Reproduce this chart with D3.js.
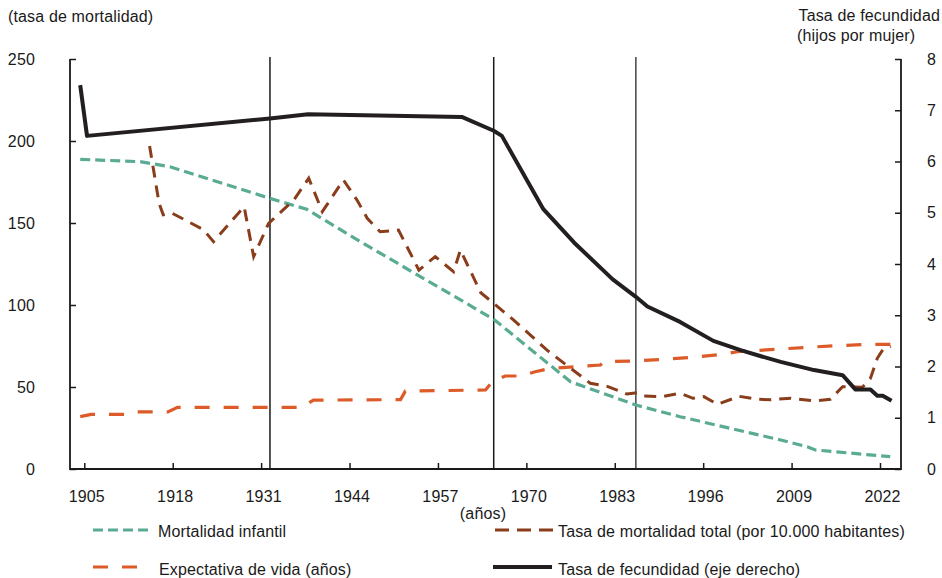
<!DOCTYPE html>
<html>
<head>
<meta charset="utf-8">
<script src="https://cdn.jsdelivr.net/npm/d3@7"></script>
<style>
  html, body { margin: 0; padding: 0; background: #fff; }
  svg { display: block; }
  text { font-family: "Liberation Sans", Arial, Helvetica, sans-serif; font-size: 16px; fill: #1a1a1a; letter-spacing: 0.15px; }
</style>
</head>
<body>
<svg id="chart" width="942" height="578"></svg>
<script>
// ---------- DATA ----------
const xTicks = [1905, 1918, 1931, 1944, 1957, 1970, 1983, 1996, 2009, 2022];
const leftTicks = [0, 50, 100, 150, 200, 250];
const rightTicks = [0, 1, 2, 3, 4, 5, 6, 7, 8];
const eventYears = [1932.3, 1965.2, 1986.1];

// Mortalidad infantil (left axis)
const infYears = [1904.4, 1913.2, 1917.6, 1932.3, 1937.7, 1945.6, 1965.2, 1976.5, 1986.1, 1992.6, 2007.4, 2011.3, 2012.5, 2023.5];
const infVals  = [188.8, 187.4, 184.3, 165, 158.4, 138.6, 91.3, 53.2, 39, 31.9, 17.7, 13.6, 11.6, 7.5];

// Expectativa de vida (años) (left axis)
const lifeYears = [1904.4, 1906, 1911, 1912.5, 1917.3, 1918.7, 1937, 1938.7, 1951.5, 1952.2, 1964, 1965, 1966.9, 1969.1, 1971.3, 1973.5, 1977.4, 1980.9, 1981.4, 1985.8, 1990.2, 1994.6, 1998.8, 2001, 2007.4, 2011.3, 2015.7, 2020.6, 2023.6];
const lifeVals  = [31.9, 33.3, 33.3, 34.8, 34.8, 37.6, 37.6, 42, 42.3, 47.5, 48.2, 53.2, 56.7, 56.7, 59.3, 61.4, 62.4, 63.4, 65.4, 65.9, 66.9, 68.1, 69.9, 71.5, 73.2, 74.2, 75.2, 76, 76];

// Tasa de mortalidad total (por 10.000 habitantes) (left axis)
const mortYears = [1914.6, 1916, 1916.6, 1917.9, 1922.5, 1924, 1928.5, 1929.9, 1932.1, 1935.8, 1938, 1940, 1943.1, 1945.1, 1946.6, 1948.5, 1951.2, 1954.2, 1956.6, 1959.3, 1960.3, 1963.3, 1965.2, 1968.1, 1970.6, 1973, 1976.2, 1979.4, 1981.9, 1984.8, 1986.3, 1987.3, 1990, 1992.6, 1994.5, 1996.1, 1998.1, 2001.3, 2004, 2006, 2008.9, 2012.3, 2014.7, 2016.5, 2019.4, 2020.6, 2021.6, 2022.4, 2023.6];
const mortVals  = [197, 162, 155, 156, 146, 138.6, 160, 129.5, 149.8, 164, 177.3, 156.9, 176.2, 164, 152.9, 144.7, 145.7, 121.3, 129.5, 120.3, 133.5, 107.5, 101, 90.9, 81.7, 72.6, 62.4, 52.3, 50.4, 45.7, 46.5, 44.5, 44.1, 46.2, 43.1, 44.1, 39.5, 44.3, 42.5, 42.3, 43.1, 41.5, 42.5, 50.2, 49.8, 55.3, 67.5, 72.6, 74.6];

// Tasa de fecundidad (eje derecho)
const fertYears = [1904.4, 1905.4, 1932.3, 1937.9, 1960.5, 1965.2, 1966.4, 1972.5, 1977, 1982.7, 1986.1, 1987.8, 1992.6, 1997.5, 2001.5, 2004.5, 2007.4, 2012.3, 2016.5, 2018.4, 2020.6, 2021.6, 2022.4, 2023.7];
const fertVals  = [7.49, 6.50, 6.84, 6.92, 6.87, 6.60, 6.50, 5.07, 4.42, 3.70, 3.36, 3.17, 2.87, 2.50, 2.32, 2.20, 2.09, 1.93, 1.83, 1.55, 1.55, 1.43, 1.43, 1.33];

const seriesNames = ["Mortalidad infantil", "Tasa de mortalidad total (por 10.000 habitantes)", "Expectativa de vida (años)", "Tasa de fecundidad (eje derecho)"];

// ---------- STYLE / LAYOUT ----------
const colors = { inf: "#5aab93", mort: "#8a3d1b", life: "#dc5b28", fert: "#231f20" };
const plot = { left: 70, right: 901, top: 59, bottom: 469 };

const svg = d3.select("#chart");

const x = d3.scaleLinear().domain([1905, 2022]).range([84.3, 880]);
const yL = d3.scaleLinear().domain([0, 250]).range([plot.bottom, plot.top]);
const yR = d3.scaleLinear().domain([0, 8]).range([plot.bottom, plot.top]);

// event vertical lines
svg.append("g").selectAll("line").data(eventYears).join("line")
  .attr("x1", d => x(d)).attr("x2", d => x(d))
  .attr("y1", plot.top - 2).attr("y2", plot.bottom)
  .attr("stroke", (d, i) => i === 2 ? "#444" : "#1a1a1a").attr("stroke-width", 1.5);

// axes
const axL = svg.append("g").attr("transform", `translate(${plot.left},0)`)
  .call(d3.axisLeft(yL).tickValues(leftTicks).tickSizeInner(-6).tickSizeOuter(0).tickPadding(35));
const axR = svg.append("g").attr("transform", `translate(${plot.right},0)`)
  .call(d3.axisRight(yR).tickValues(rightTicks).tickSizeInner(-6).tickSizeOuter(0).tickPadding(26));
const axB = svg.append("g").attr("transform", `translate(0,${plot.bottom})`)
  .call(d3.axisBottom(x).tickValues(xTicks).tickFormat(d3.format("d")).tickSizeInner(-6).tickSizeOuter(0).tickPadding(22));
[axL, axR, axB].forEach(g => {
  g.select(".domain").remove();
  g.selectAll(".tick line").attr("stroke", "#1a1a1a").attr("stroke-width", 1.5);
  g.selectAll(".tick text").attr("fill", "#1a1a1a").style("font-size", "16px")
    .style("font-family", '"Liberation Sans", Arial, sans-serif');
});
axB.selectAll(".tick text").attr("dx", 2);

svg.append("path")
  .attr("d", `M${plot.left},${plot.top}V${plot.bottom}H${plot.right}V${plot.top}`)
  .attr("fill", "none").attr("stroke", "#1a1a1a").attr("stroke-width", 1.8);

// series
const lineL = d3.line().x(d => x(d[0])).y(d => yL(d[1]));
const lineR = d3.line().x(d => x(d[0])).y(d => yR(d[1]));
const zip = (a, b) => a.map((v, i) => [v, b[i]]);

const g = svg.append("g");
g.append("path").attr("d", lineL(zip(infYears, infVals)))
  .attr("fill", "none").attr("stroke", colors.inf).attr("stroke-width", 3.2).attr("stroke-dasharray", "10,5");
g.append("path").attr("d", lineL(zip(lifeYears, lifeVals)))
  .attr("fill", "none").attr("stroke", colors.life).attr("stroke-width", 3.2).attr("stroke-dasharray", "15,14");
g.append("path").attr("d", lineL(zip(mortYears, mortVals)))
  .attr("fill", "none").attr("stroke", colors.mort).attr("stroke-width", 3).attr("stroke-dasharray", "12,8");
g.append("path").attr("d", lineR(zip(fertYears, fertVals)))
  .attr("fill", "none").attr("stroke", colors.fert).attr("stroke-width", 4).attr("stroke-linejoin", "round");

// titles
svg.append("text").attr("x", 8).attr("y", 22).text("(tasa de mortalidad)");
svg.append("text").attr("x", 940).attr("y", 21).attr("text-anchor", "end").text("Tasa de fecundidad");
svg.append("text").attr("x", 797).attr("y", 41).text("(hijos por mujer)");
svg.append("text").attr("x", 483).attr("y", 519).attr("text-anchor", "middle").text("(años)");

// legend
const legend = [
  { name: seriesNames[0], color: colors.inf, dash: "10,5", w: 3.2, x1: 93, x2: 152, tx: 158, y: 530, ty: 537 },
  { name: seriesNames[1], color: colors.mort, dash: "14,8", w: 3, x1: 495, x2: 553, tx: 558, y: 530, ty: 537 },
  { name: seriesNames[2], color: colors.life, dash: "15,14", w: 3.2, x1: 93, x2: 138, tx: 159, y: 567, ty: 575 },
  { name: seriesNames[3], color: colors.fert, dash: null, w: 4, x1: 493, x2: 552, tx: 558, y: 567, ty: 575 }
];
const lg = svg.append("g").selectAll("g").data(legend).join("g");
lg.append("line")
  .attr("x1", d => d.x1).attr("x2", d => d.x2).attr("y1", d => d.y).attr("y2", d => d.y)
  .attr("stroke", d => d.color).attr("stroke-width", d => d.w)
  .attr("stroke-dasharray", d => d.dash);
lg.append("text").attr("x", d => d.tx).attr("y", d => d.ty).text(d => d.name);
</script>
</body>
</html>
